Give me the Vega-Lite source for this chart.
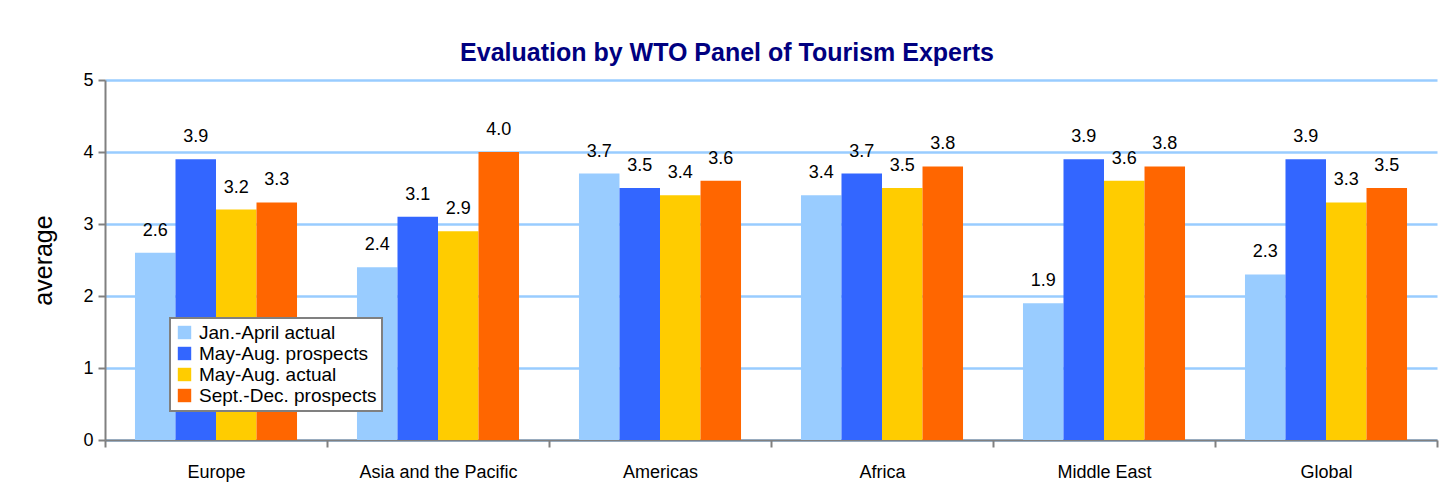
{
  "$schema": "https://vega.github.io/schema/vega-lite/v6.json",
  "width": 1332,
  "height": 360,
  "autosize": {"type": "none"},
  "padding": {"left": 105, "top": 80, "right": 3, "bottom": 53},
  "background": "white",
  "config": {
    "font": "Liberation Sans",
    "view": {"stroke": null}
  },
  "title": {
    "text": "Evaluation by WTO Panel of Tourism Experts",
    "fontSize": 25,
    "fontWeight": "bold",
    "color": "#000080",
    "anchor": "middle",
    "dx": -44,
    "offset": 5
  },
  "data": {
    "values": [
      {"region": "Europe", "series": "Jan.-April actual", "value": 2.6},
      {"region": "Europe", "series": "May-Aug. prospects", "value": 3.9},
      {"region": "Europe", "series": "May-Aug. actual", "value": 3.2},
      {"region": "Europe", "series": "Sept.-Dec. prospects", "value": 3.3},
      {"region": "Asia and the Pacific", "series": "Jan.-April actual", "value": 2.4},
      {"region": "Asia and the Pacific", "series": "May-Aug. prospects", "value": 3.1},
      {"region": "Asia and the Pacific", "series": "May-Aug. actual", "value": 2.9},
      {"region": "Asia and the Pacific", "series": "Sept.-Dec. prospects", "value": 4.0},
      {"region": "Americas", "series": "Jan.-April actual", "value": 3.7},
      {"region": "Americas", "series": "May-Aug. prospects", "value": 3.5},
      {"region": "Americas", "series": "May-Aug. actual", "value": 3.4},
      {"region": "Americas", "series": "Sept.-Dec. prospects", "value": 3.6},
      {"region": "Africa", "series": "Jan.-April actual", "value": 3.4},
      {"region": "Africa", "series": "May-Aug. prospects", "value": 3.7},
      {"region": "Africa", "series": "May-Aug. actual", "value": 3.5},
      {"region": "Africa", "series": "Sept.-Dec. prospects", "value": 3.8},
      {"region": "Middle East", "series": "Jan.-April actual", "value": 1.9},
      {"region": "Middle East", "series": "May-Aug. prospects", "value": 3.9},
      {"region": "Middle East", "series": "May-Aug. actual", "value": 3.6},
      {"region": "Middle East", "series": "Sept.-Dec. prospects", "value": 3.8},
      {"region": "Global", "series": "Jan.-April actual", "value": 2.3},
      {"region": "Global", "series": "May-Aug. prospects", "value": 3.9},
      {"region": "Global", "series": "May-Aug. actual", "value": 3.3},
      {"region": "Global", "series": "Sept.-Dec. prospects", "value": 3.5}
    ]
  },
  "encoding": {
    "x": {
      "field": "region",
      "type": "nominal",
      "sort": null,
      "scale": {"paddingInner": 0, "paddingOuter": 0},
      "axis": {
        "title": null,
        "labelAngle": 0,
        "labelFontSize": 18,
        "labelColor": "black",
        "labelPadding": 16,
        "domainColor": "#808080",
        "domainWidth": 2,
        "tickColor": "#808080",
        "tickWidth": 2,
        "tickSize": 7,
        "tickBand": "extent",
        "grid": false
      }
    },
    "xOffset": {
      "field": "series",
      "type": "nominal",
      "sort": null,
      "scale": {"paddingInner": 0, "paddingOuter": 0.74}
    },
    "y": {
      "field": "value",
      "type": "quantitative",
      "scale": {"domain": [0, 5]},
      "axis": {
        "title": "average",
        "titleFontSize": 25,
        "titleFontWeight": "normal",
        "titleColor": "black",
        "titlePadding": 26,
        "values": [0, 1, 2, 3, 4, 5],
        "labelFontSize": 18,
        "labelColor": "black",
        "labelPadding": 5,
        "domainColor": "#808080",
        "domainWidth": 2,
        "tickColor": "#808080",
        "tickWidth": 2,
        "tickSize": 7,
        "gridColor": "#99CCFF",
        "gridWidth": 2.5
      }
    }
  },
  "layer": [
    {
      "mark": {"type": "bar"},
      "encoding": {
        "color": {
          "field": "series",
          "type": "nominal",
          "sort": null,
          "scale": {
            "domain": ["Jan.-April actual", "May-Aug. prospects", "May-Aug. actual", "Sept.-Dec. prospects"],
            "range": ["#99CCFF", "#3366FF", "#FFCC00", "#FF6600"]
          },
          "legend": {
            "title": null,
            "orient": "none",
            "legendX": 65,
            "legendY": 238,
            "symbolType": "square",
            "symbolSize": 180,
            "symbolStrokeWidth": 0,
            "labelFontSize": 19,
            "labelLimit": 400,
            "labelColor": "black",
            "rowPadding": 1,
            "padding": 5,
            "strokeColor": "#808080",
            "fillColor": "white",
            "labelOffset": 5,
            "encode": {"legend": {"update": {"strokeWidth": {"value": 2}}}}
          }
        }
      }
    },
    {
      "mark": {"type": "text", "baseline": "alphabetic", "dy": -17, "fontSize": 18, "color": "black"},
      "encoding": {
        "text": {"field": "value", "type": "quantitative", "format": ".1f"}
      }
    }
  ]
}
